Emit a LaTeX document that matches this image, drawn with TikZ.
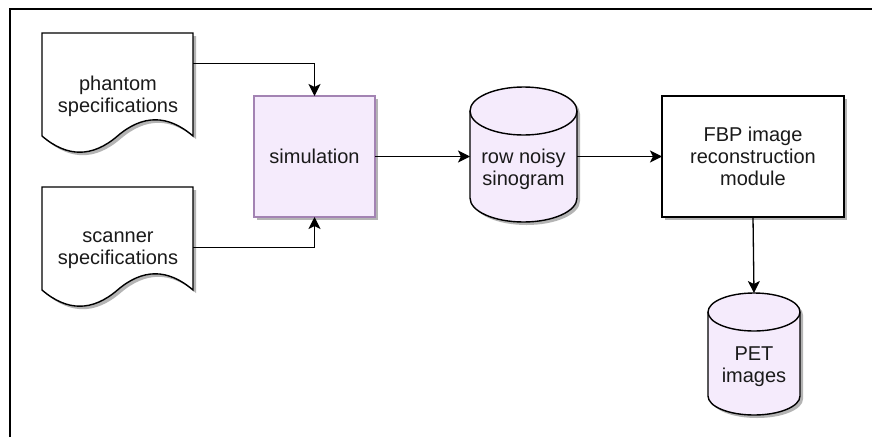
\documentclass[tikz,border=0pt]{standalone}
\usepackage{fontspec}
\setmainfont{Liberation Sans}
\usetikzlibrary{arrows.meta,calc}
\definecolor{lav}{HTML}{F5EBFC}
\definecolor{lavborder}{HTML}{A383B3}
\definecolor{txt}{HTML}{1A1A1A}
\definecolor{shad}{HTML}{B4B4B4}
% #1 node, #2 w, #3 h, #4 rx, #5 ry
\newcommand\mycyl[5]{%
  \begin{scope}[shift={(#1.north west)}]
    \fill[shad,shift={(3,3)}] (0,#5) -- (0,{#3-#5})
      arc[start angle=180,end angle=360,x radius=#4pt,y radius=#5pt]
      -- (#2,#5) arc[start angle=0,end angle=180,x radius=#4pt,y radius=#5pt] -- cycle;
    \filldraw[shapeline,fill=lav] (0,#5) -- (0,{#3-#5})
      arc[start angle=180,end angle=360,x radius=#4pt,y radius=#5pt]
      -- (#2,#5) arc[start angle=0,end angle=180,x radius=#4pt,y radius=#5pt] -- cycle;
    \draw[shapeline] (0,#5) arc[start angle=180,end angle=360,x radius=#4pt,y radius=#5pt];
  \end{scope}}
% document shape, w=151, h=121
\newcommand\mydoc[1]{%
  \begin{scope}[shift={(#1.north west)}]
    \fill[shad,shift={(3,3)}] (0,0) -- (151,0) -- (151,103)
      .. controls (125.8,81.4) and (100.7,81.4) .. (75.5,103)
      .. controls (50.3,124.6) and (25.2,124.6) .. (0,103) -- cycle;
    \filldraw[shapeline,fill=white] (0,0) -- (151,0) -- (151,103)
      .. controls (125.8,81.4) and (100.7,81.4) .. (75.5,103)
      .. controls (50.3,124.6) and (25.2,124.6) .. (0,103) -- cycle;
  \end{scope}}
\begin{document}
\begin{tikzpicture}[x=1pt,y=-1pt,
  shapeline/.style={line width=1.4pt,draw=black},
  txtstyle/.style={font=\fontsize{20}{22}\selectfont,text=txt,align=center,inner sep=0pt},
  holder/.style={rectangle,inner sep=0pt,outer sep=0pt},
  conn/.style={line width=1.3pt,-{Stealth[length=12pt,width=12pt,inset=3pt]}},
  frameline/.style={line width=2pt}]
\useasboundingbox (0,0) rectangle (872,437);
\fill[white] (0,0) rectangle (872,437);
\draw[frameline] (10,437) -- (10,9) -- (872,9);

% placeholders
\node[holder,minimum width=151pt,minimum height=121pt] (phantom) at (117.5,93.5) {};
\node[holder,minimum width=151pt,minimum height=121pt] (scanner) at (117.5,247.5) {};
\node[holder,minimum width=107pt,minimum height=135pt] (sino) at (523.5,154.5) {};
\node[holder,minimum width=92pt,minimum height=122pt] (pet) at (754,354) {};

% shapes
\mydoc{phantom}
\mydoc{scanner}
\fill[shad] (257,99) rectangle (378,220);
\node[holder,draw=lavborder,line width=1.3pt,fill=lav,minimum width=121pt,minimum height=121pt,txtstyle] (sim) at (314.5,156.5) {simulation};
\fill[shad] (665,99) rectangle (847,220);
\node[holder,shapeline,fill=white,minimum width=182pt,minimum height=121pt,txtstyle] (fbp) at (753,156.5) {FBP image\\reconstruction\\module};
\mycyl{sino}{107}{135}{53.5}{24}
\mycyl{pet}{92}{122}{46}{19}

% texts
\node[txtstyle] (phantomtext) at (118,96) {phantom\\specifications};
\node[txtstyle] (scannertext) at (118,250) {scanner\\specifications};
\node[txtstyle] (sinotext) at (523.5,169) {row noisy\\sinogram};
\node[txtstyle] (pettext) at (754,367) {PET\\images};

% connectors
\draw[conn] ($(phantom.north east)!0.25!(phantom.south east)$) -| (sim.north);
\draw[conn] (scanner.east) -| (sim.south);
\draw[conn] (sim.east) -- (sim.east -| sino.west);
\draw[conn] (sino.east |- sim.east) -- (sim.east -| fbp.west);
\draw[conn] (fbp.south) -- (pet.north);
\end{tikzpicture}
\end{document}
